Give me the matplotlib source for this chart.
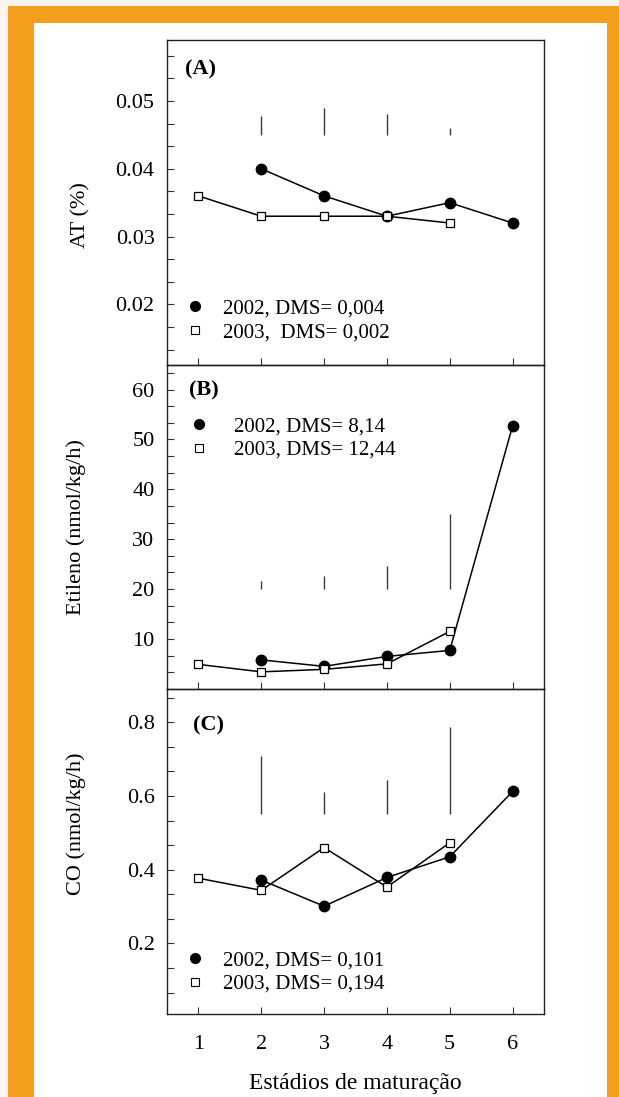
import matplotlib
matplotlib.use('Agg')
import matplotlib.pyplot as plt
from matplotlib.lines import Line2D
from matplotlib.patches import Rectangle
from matplotlib.ticker import FixedLocator, MultipleLocator

plt.rcParams['font.family'] = ['Liberation Serif', 'DejaVu Serif']

# Data
stages = [1, 2, 3, 4, 5, 6]
x_2002 = [2, 3, 4, 5, 6]
x_2003 = [1, 2, 3, 4, 5]
x_dms = [2, 3, 4, 5]

# (A) AT (%)
at_2002 = [0.040, 0.036, 0.033, 0.035, 0.032]
at_2003 = [0.036, 0.033, 0.033, 0.033, 0.032]
at_dms_low = [0.045, 0.045, 0.045, 0.045]
at_dms_high = [0.0478, 0.0490, 0.0481, 0.0460]

# (B) Etileno
et_2002 = [5.8, 4.5, 6.5, 7.7, 52.7]
et_2003 = [4.9, 3.4, 3.9, 5.0, 11.5]
et_dms_low = [20, 20, 20, 20]
et_dms_high = [21.7, 22.7, 24.7, 35.0]

# (C) CO
co_2002 = [0.372, 0.301, 0.379, 0.435, 0.612]
co_2003 = [0.377, 0.344, 0.460, 0.353, 0.473]
co_dms_low = [0.55, 0.55, 0.55, 0.55]
co_dms_high = [0.709, 0.610, 0.642, 0.786]

panels = [
    dict(tag='(A)', ylabel='AT (%)', y02=at_2002, y03=at_2003,
         lo=at_dms_low, hi=at_dms_high, ylim=(0.0111, 0.0590),
         ticks=[0.02, 0.03, 0.04, 0.05], minor=0.01 / 3,
         leg=['2002, DMS= 0,004', '2003,  DMS= 0,002']),
    dict(tag='(B)', ylabel='Etileno (nmol/kg/h)', y02=et_2002, y03=et_2003,
         lo=et_dms_low, hi=et_dms_high, ylim=(-0.1, 65),
         ticks=[10, 20, 30, 40, 50, 60], minor=10 / 3,
         leg=['2002, DMS= 8,14', '2003, DMS= 12,44']),
    dict(tag='(C)', ylabel='CO (nmol/kg/h)', y02=co_2002, y03=co_2003,
         lo=co_dms_low, hi=co_dms_high, ylim=(0.009, 0.889),
         ticks=[0.2, 0.4, 0.6, 0.8], minor=0.2 / 3,
         leg=['2002, DMS= 0,101', '2003, DMS= 0,194']),
]

# layout tweaks per panel (axes fractions)
tag_pos = [(0.048, 0.908), (0.058, 0.92), (0.069, 0.89)]
leg_pos = [(0.047, 0.203), (0.057, 0.84), (0.047, 0.195)]
leg_pad = [0.83, 1.18, 0.83]
ylab_pos = [(-0.202, 0.46), (-0.215, 0.5), (-0.215, 0.586)]

fig, axes = plt.subplots(3, 1, sharex=True, figsize=(6.19, 10.97), dpi=100)
fig.subplots_adjust(left=0.2698, right=0.8788, top=1 - 40 / 1097,
                    bottom=0.0757, hspace=0)

# page background: cream strip, orange frame, white card
fig.patch.set_facecolor('#FDF4EF')
fig.patches.append(Rectangle((8 / 619, 0), 1, 1 - 6 / 1097, transform=fig.transFigure,
                             facecolor='#F49E1E', edgecolor='none', zorder=-2))
fig.patches.append(Rectangle((34 / 619, 0), (607 - 34) / 619, 1 - 23 / 1097,
                             transform=fig.transFigure,
                             facecolor='white', edgecolor='none', zorder=-1))

for i, (ax, p) in enumerate(zip(axes, panels)):
    ax.set_facecolor('none')
    ax.vlines(x_dms, p['lo'], p['hi'], colors='#3a3a3a', linewidth=1.0)
    ax.plot(x_2002, p['y02'], color='black', linewidth=1.1, marker='o',
            markersize=7.5, markerfacecolor='black', markeredgecolor='black', zorder=3)
    ax.plot(x_2003, p['y03'], color='black', linewidth=1.1, marker='s',
            markersize=6, markerfacecolor='white', markeredgecolor='black',
            markeredgewidth=0.9, zorder=4)

    ax.set_ylim(*p['ylim'])
    ax.yaxis.set_major_locator(FixedLocator(p['ticks']))
    ax.yaxis.set_minor_locator(MultipleLocator(p['minor']))
    ax.set_xlim(0.5, 6.5)
    ax.set_xticks(stages)
    ax.tick_params(axis='both', which='both', direction='in', length=5,
                   width=0.8, top=False, right=False, labelsize=16, pad=9,
                   colors='#333333', labelcolor='black')
    ax.tick_params(axis='x', which='both', pad=15)
    for sp in ax.spines.values():
        sp.set_color('#222222')
        sp.set_linewidth(1.0)

    ax.set_ylabel(p['ylabel'], fontsize=16)
    ax.yaxis.set_label_coords(*ylab_pos[i])
    ax.text(tag_pos[i][0], tag_pos[i][1], p['tag'], transform=ax.transAxes,
            fontsize=16, fontweight='bold', va='center', ha='left')

    handles = [
        Line2D([], [], linestyle='none', marker='o', markersize=7,
               markerfacecolor='black', markeredgecolor='black'),
        Line2D([], [], linestyle='none', marker='s', markersize=5.5,
               markerfacecolor='white', markeredgecolor='black', markeredgewidth=0.8),
    ]
    ax.legend(handles, p['leg'], loc='upper left', bbox_to_anchor=leg_pos[i],
              frameon=False, fontsize=15, handlelength=1.0,
              handletextpad=leg_pad[i], borderpad=0, borderaxespad=0,
              labelspacing=0.2)

axes[-1].set_xlabel('Estádios de maturação', fontsize=17, labelpad=14)

fig.savefig('out.png', dpi=100, facecolor=fig.get_facecolor())
